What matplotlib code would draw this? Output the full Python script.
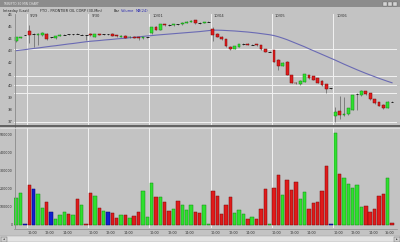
import matplotlib
matplotlib.use("Agg")
import matplotlib.pyplot as plt
from matplotlib.patches import Rectangle

W, H = 400, 242

# 30-min bars: 3 bars of 9/28, then 14 bars per day (13 session bars + 1 after-close bar)
days = ["9/29", "9/30", "10/01", "10/04", "10/05", "10/06"]
bars_per_day = 14
first_day_offset = 3

opens = [43.80, 44.10, 44.35,
         44.70, 44.40, 44.35, 44.35, 44.45, 44.15, 44.10, 44.30, 44.35, 44.42, 44.37, 44.50, 44.35, 44.35,
         44.45, 44.20, 44.42, 44.38, 44.42, 44.45, 44.35, 44.22, 44.30, 44.15, 44.22, 44.15, 44.08, 44.12,
         44.50, 45.05, 44.78, 45.25, 45.22, 45.18, 45.28, 45.25, 45.40, 45.47, 45.62, 45.40, 45.36, 45.45,
         44.90, 44.43, 44.20, 44.00, 43.36, 43.19, 43.36, 43.55, 43.62, 43.50, 43.55, 43.47, 43.14, 42.93,
         43.08, 42.23, 41.72, 42.08, 40.96, 40.32, 40.19, 40.39, 40.96, 40.85, 40.68, 40.47, 40.19, 39.83,
         37.48, 37.93, 37.60, 37.65, 37.99, 39.30, 39.26, 39.60, 39.40, 38.90, 38.64, 38.42, 38.19, 38.72]
closes = [44.15, 44.18, 44.35,
          44.35, 44.40, 44.45, 44.55, 44.00, 44.15, 44.25, 44.37, 44.40, 44.38, 44.42, 44.45, 44.40, 44.30,
          44.35, 44.43, 44.35, 44.42, 44.42, 44.30, 44.25, 44.30, 44.12, 44.22, 44.12, 44.08, 44.15, 44.16,
          45.00, 44.78, 45.28, 45.18, 45.18, 45.25, 45.24, 45.40, 45.47, 45.55, 45.34, 45.35, 45.45, 45.48,
          44.35, 44.20, 44.00, 43.41, 43.16, 43.41, 43.58, 43.60, 43.52, 43.55, 43.47, 43.14, 42.93, 42.97,
          42.08, 41.75, 42.00, 40.96, 40.30, 40.25, 40.47, 41.04, 40.68, 40.55, 40.30, 40.10, 39.75, 39.83,
          37.85, 37.57, 37.68, 38.14, 39.26, 39.35, 39.63, 39.35, 38.90, 38.56, 38.36, 38.14, 38.69, 38.69]
highs = [44.20, 44.22, 44.37,
         45.20, 44.55, 44.50, 44.60, 44.50, 44.20, 44.30, 44.42, 44.45, 44.46, 44.46, 44.55, 44.45, 44.38,
         44.55, 44.47, 44.46, 44.45, 44.46, 44.48, 44.38, 44.33, 44.34, 44.25, 44.26, 44.18, 44.18, 44.18,
         45.05, 45.10, 45.32, 45.28, 45.26, 45.28, 45.32, 45.44, 45.50, 45.58, 45.65, 45.44, 45.48, 45.50,
         45.00, 44.48, 44.24, 44.04, 43.40, 43.45, 43.62, 43.64, 43.66, 43.58, 43.58, 43.50, 43.18, 42.99,
         43.12, 42.28, 42.05, 42.12, 41.00, 40.38, 40.52, 41.08, 41.00, 40.90, 40.72, 40.50, 40.23, 39.85,
         38.27, 39.18, 39.10, 38.20, 39.30, 39.40, 39.68, 39.64, 39.44, 38.94, 38.68, 38.46, 38.74, 38.74]
lows = [43.75, 44.06, 44.33,
        43.65, 43.30, 43.50, 44.30, 43.95, 44.10, 44.05, 44.26, 44.32, 44.34, 44.34, 44.42, 44.32, 43.90,
        44.30, 44.16, 44.31, 44.34, 44.38, 44.26, 44.20, 44.18, 44.08, 44.12, 44.08, 43.90, 44.04, 44.10,
        44.45, 44.74, 44.74, 45.14, 45.15, 45.15, 45.20, 45.22, 45.36, 45.44, 45.30, 45.31, 45.33, 45.43,
        43.86, 44.16, 43.96, 43.37, 43.10, 43.15, 43.32, 43.50, 43.48, 43.46, 43.43, 43.10, 42.88, 42.90,
        42.04, 41.38, 41.68, 40.92, 40.26, 40.20, 40.15, 40.35, 40.64, 40.50, 40.26, 40.05, 39.46, 39.80,
        37.00, 37.20, 37.45, 37.60, 37.95, 38.00, 39.22, 39.30, 38.86, 38.52, 38.30, 38.10, 38.15, 38.66]
volumes = [150, 178, 5,
           222, 200, 172, 96, 130, 72, 35, 54, 72, 60, 54, 146, 109, 5,
           176, 161, 94, 78, 70, 68, 41, 57, 57, 37, 50, 72, 187, 43,
           235, 154, 157, 128, 80, 89, 135, 113, 83, 109, 72, 65, 111, 8,
           191, 161, 61, 109, 154, 69, 83, 59, 35, 43, 35, 91, 198, 6,
           207, 276, 168, 250, 194, 241, 143, 183, 87, 120, 128, 187, 330, 5,
           513, 281, 259, 228, 204, 222, 98, 106, 72, 89, 161, 172, 259, 10]
ma24 = [43.02, 43.07, 43.11, 43.16, 43.21, 43.25, 43.30, 43.35, 43.40, 43.44, 43.49, 43.54, 43.59, 43.63,
        43.68, 43.73, 43.78,
        43.82, 43.85, 43.88, 43.92, 43.95, 43.98, 44.02, 44.05, 44.08, 44.12, 44.15, 44.19, 44.23, 44.27,
        44.30, 44.34, 44.37, 44.40, 44.43, 44.46, 44.49, 44.52, 44.55, 44.58, 44.61, 44.64, 44.68, 44.72,
        44.76, 44.76, 44.75, 44.73, 44.71, 44.69, 44.66, 44.63, 44.60, 44.56, 44.52, 44.47, 44.42, 44.37,
        44.30, 44.20, 44.08, 43.95, 43.80, 43.65, 43.50, 43.35, 43.18, 43.02, 42.86, 42.70, 42.54, 42.38,
        42.22, 42.05, 41.88, 41.72, 41.56, 41.40, 41.25, 41.10, 40.96, 40.82, 40.68, 40.55, 40.42, 40.30]
price_lines = [43.15, 40.87, 40.10, 39.43, 36.98]
price_ticks = [46, 45, 44, 43, 42, 41, 40, 39, 38, 37]
vol_ticks = [0, 100000, 200000, 300000, 400000, 500000]
time_labels = ["10:00", "12:00", "14:00"]

BG = "#c3c3c3"
GREEN, GREEN_E = "#2fe02f", "#138a13"
RED, RED_E = "#e01b1b", "#7a0a0a"
BLUE, BLUE_E = "#1020d0", "#000070"

fig = plt.figure(figsize=(W / 100, H / 100), dpi=100, facecolor=BG)


def px_axes(x0, y0, x1, y1, **kw):
    return fig.add_axes([x0 / W, 1 - y1 / H, (x1 - x0) / W, (y1 - y0) / H], **kw)


def style(ax):
    ax.set_facecolor(BG)
    for s in ax.spines.values():
        s.set_visible(False)
    ax.set_xticks([])
    ax.set_yticks([])


n = len(closes)
xs = list(range(n))
xlim = (-0.5, 87.14)
day_starts = [first_day_offset + bars_per_day * d for d in range(len(days))]


def bar_color(i):
    if closes[i] > opens[i]:
        return GREEN, GREEN_E
    if closes[i] < opens[i]:
        return RED, RED_E
    return BLUE, BLUE_E


# ---- price panel
axp = px_axes(14, 14, 397, 125)
style(axp)
axp.set_xlim(*xlim)
axp.set_ylim(36.72, 46.13)
for p in price_lines:
    axp.axhline(p, color="#f2f2f2", lw=0.7, zorder=1)
for d0 in day_starts:
    axp.axvline(d0 - 0.5, color="#f2f2f2", lw=0.7, zorder=1)
axp.plot(xs, ma24, color="#6a6ab4", lw=0.8, zorder=2)
for i in xs:
    fc, ec = bar_color(i)
    axp.vlines(i, lows[i], highs[i], color="#4a4a4a", lw=0.4, zorder=3)
    lo, hi = min(opens[i], closes[i]), max(opens[i], closes[i])
    if hi - lo < 0.06:
        axp.hlines((lo + hi) / 2, i - 0.32, i + 0.32, color="#202020", lw=0.7, zorder=4)
    else:
        axp.add_patch(Rectangle((i - 0.32, lo), 0.64, hi - lo, facecolor=fc,
                                edgecolor=ec, lw=0.35, zorder=4))
for d0, lab in zip(day_starts, days):
    axp.text(d0 + 0.2, 45.95, lab, fontsize=2.7, color="#303030", va="center", ha="left")

# ---- volume panel
axv = px_axes(14, 128, 397, 228)
style(axv)
axv.set_xlim(*xlim)
axv.set_ylim(-17000, 539000)
for d0 in day_starts:
    axv.axvline(d0 - 0.5, color="#f2f2f2", lw=0.7, zorder=1)
for i in xs:
    fc, ec = bar_color(i)
    axv.bar(i, volumes[i] * 1000, width=0.78, color=fc, edgecolor=ec, lw=0.35, zorder=3)

# ---- left scales
for p in price_ticks:
    y = 62.7 + (42 - p) * 11.8
    fig.text(12.8 / W, 1 - y / H, str(p), fontsize=2.7, ha="right", va="center", color="#303030")
for v in vol_ticks:
    y = 225 - v / 100000 * 18
    fig.text(12.8 / W, 1 - y / H, str(v), fontsize=2.3, ha="right", va="center", color="#303030")

# ---- time labels under the volume panel
for d0 in day_starts:
    for k, lab in zip([1, 5, 9], time_labels):
        fx = 14 + (d0 + k - 0.35 + 0.5) * 4.37
        fig.text(fx / W, 1 - 232.5 / H, lab, fontsize=2.4, ha="center", va="center", color="#303030")
fx = 14 + (day_starts[-1] + 12.3 + 0.5) * 4.37
fig.text(fx / W, 1 - 232.5 / H, "16:00", fontsize=2.4, ha="center", va="center", color="#303030")

# ---- frame: window bar, header, separators, scroll bar
deco = px_axes(0, 0, W, H)
deco.set_xlim(0, W)
deco.set_ylim(H, 0)
deco.axis("off")
deco.patch.set_alpha(0)
deco.add_patch(Rectangle((0, 0), W, 7, facecolor="#8c8c8c", edgecolor="none"))
deco.text(3, 3.6, "TRIN/FTO 30 MIN CHART", fontsize=2.2, color="#e6e6e6", va="center")
for k in range(3):
    deco.add_patch(Rectangle((383 + k * 5, 1.5), 4, 4, facecolor="#d4d4d4", edgecolor="#505050", lw=0.2))
deco.text(3, 10.6, "Intraday (Last)", fontsize=2.5, color="#202020", va="center")
deco.text(40, 10.6, "FTO - FRONTIER OIL CORP (30-Min)", fontsize=2.5, color="#202020", va="center")
deco.text(114, 10.6, "Bar", fontsize=2.5, color="#202020", va="center")
deco.text(121, 10.6, "Volume", fontsize=2.5, color="#2a2ab0", va="center")
deco.text(136, 10.6, "MA(24)", fontsize=2.5, color="#2a2ab0", va="center")
deco.plot([14.5, 14.5], [14, 228], color="#8a8a8a", lw=0.6)
deco.plot([0, W], [126, 126], color="#505050", lw=1.2)
deco.plot([0, W], [127.6, 127.6], color="#e8e8e8", lw=0.5)
deco.plot([14, 397], [228.5, 228.5], color="#8a8a8a", lw=0.5)
deco.add_patch(Rectangle((0, 236), W, 6, facecolor="#e2e2e2", edgecolor="#9a9a9a", lw=0.3))
deco.add_patch(Rectangle((0.5, 236.5), 6, 5, facecolor="#d0d0d0", edgecolor="#606060", lw=0.3))
deco.add_patch(Rectangle((393.5, 236.5), 6, 5, facecolor="#d0d0d0", edgecolor="#606060", lw=0.3))
deco.text(3.5, 239, "\u25c2", fontsize=2.5, ha="center", va="center", color="#202020")
deco.text(396.5, 239, "\u25b8", fontsize=2.5, ha="center", va="center", color="#202020")

fig.savefig("out.png", dpi=100, facecolor=BG)
